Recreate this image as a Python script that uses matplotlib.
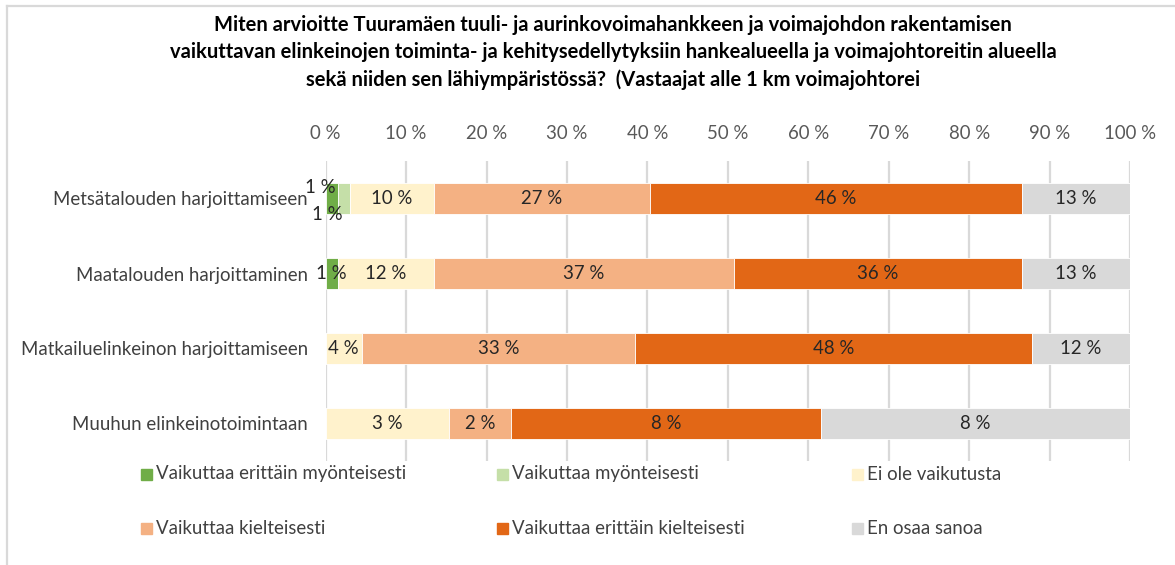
import matplotlib.pyplot as plt
from matplotlib.lines import Line2D
from matplotlib.patches import Rectangle
import numpy as np

# ---------- DATA ----------
categories = [
    "Metsätalouden harjoittamiseen",
    "Maatalouden harjoittaminen",
    "Matkailuelinkeinon harjoittamiseen",
    "Muuhun elinkeinotoimintaan",
]
series_names = [
    "Vaikuttaa erittäin myönteisesti",
    "Vaikuttaa myönteisesti",
    "Ei ole vaikutusta",
    "Vaikuttaa kielteisesti",
    "Vaikuttaa erittäin kielteisesti",
    "En osaa sanoa",
]
erittain_myonteisesti = [1.49, 1.49, 0.0, 0.0]
myonteisesti = [1.49, 0.0, 0.0, 0.0]
ei_vaikutusta = [10.45, 11.94, 4.4, 3.0]
kielteisesti = [26.87, 37.31, 33.4, 1.5]
erittain_kielteisesti = [46.27, 35.82, 48.4, 7.5]
en_osaa_sanoa = [13.43, 13.43, 12.0, 7.5]

colors = ["#70AD47", "#C5DFA8", "#FFF2CC", "#F4B183", "#E26716", "#D9D9D9"]
ticks = list(range(0, 101, 10))

title = ("Miten arvioitte Tuuramäen tuuli- ja aurinkovoimahankkeen ja voimajohdon rakentamisen\n"
         "vaikuttavan elinkeinojen toiminta- ja kehitysedellytyksiin hankealueella ja voimajohtoreitin alueella\n"
         "sekä niiden sen lähiympäristössä?  (Vastaajat alle 1 km voimajohtorei")

FONT = "Lato"
TEXT = "#404040"
FS = 13.4

# ---------- DRAWING ----------
values = np.array([erittain_myonteisesti, myonteisesti, ei_vaikutusta,
                   kielteisesti, erittain_kielteisesti, en_osaa_sanoa])
shares = values / values.sum(axis=0) * 100  # 100 % stacked

W, H = 1175, 565
fig = plt.figure(figsize=(W / 100, H / 100), dpi=100)
ax = fig.add_axes([325.7 / W, 1 - 461 / H, (1130 - 325.7) / W, 300 / H])

y = np.arange(len(categories))
left = np.zeros(len(categories))
for i, name in enumerate(series_names):
    bars = ax.barh(y, shares[i], left=left, height=0.41, color=colors[i],
                   edgecolor="white", linewidth=0.6, label=name, zorder=3)
    for j, bar in enumerate(bars):
        v = values[i, j]
        if v <= 0:
            continue
        cx = left[j] + shares[i, j] / 2
        cy = y[j]
        # the two thin green slices of the first row get their labels pushed apart
        if j == 0 and i == 0:
            cx, cy = cx - 1.45, cy - 0.15
        elif j == 0 and i == 1:
            cx, cy = cx - 2.05, cy + 0.21
        ax.text(cx, cy, f"{v:.0f} %", ha="center", va="center",
                fontsize=FS, color="#262626", family=FONT, zorder=4)
    left += shares[i]

ax.set_xlim(0, 100)
ax.set_ylim(len(categories) - 0.5, -0.5)
ax.set_xticks(ticks)
ax.set_xticklabels([f"{t} %" for t in ticks], family=FONT, fontsize=FS, color="#595959")
ax.xaxis.tick_top()
ax.set_yticks(y)
ax.set_yticklabels(categories, family=FONT, fontsize=FS, color=TEXT)
ax.tick_params(axis="both", length=0)
ax.tick_params(axis="x", pad=14)
ax.tick_params(axis="y", pad=13)
ax.grid(axis="x", color="#D9D9D9", linewidth=1.6, zorder=0)
for s in ax.spines.values():
    s.set_visible(False)

fig.text(613 / W, 1 - 52.5 / H, title, ha="center", va="center", family=FONT,
         fontsize=14.5, fontweight="bold", color="black", linespacing=1.45)

# legend, three columns by two rows
leg_x = [141, 497, 852]
leg_y = [474, 528]
for k, name in enumerate(series_names):
    lx = leg_x[k % 3]
    ly = leg_y[k // 3]
    fig.add_artist(Rectangle((lx / W, 1 - (ly + 5.5) / H), 11 / W, 11 / H,
                             transform=fig.transFigure, color=colors[k]))
    fig.text((lx + 15) / W, 1 - ly / H, name, ha="left", va="center",
             family=FONT, fontsize=FS, color=TEXT)

# chart frame
fig.add_artist(Line2D([7 / W, 7 / W], [0, 1 - 6 / H], color="#D9D9D9", linewidth=1.6))
fig.add_artist(Line2D([7 / W, 1], [1 - 6 / H, 1 - 6 / H], color="#D9D9D9", linewidth=1.6))

fig.savefig("out.png", dpi=100)
